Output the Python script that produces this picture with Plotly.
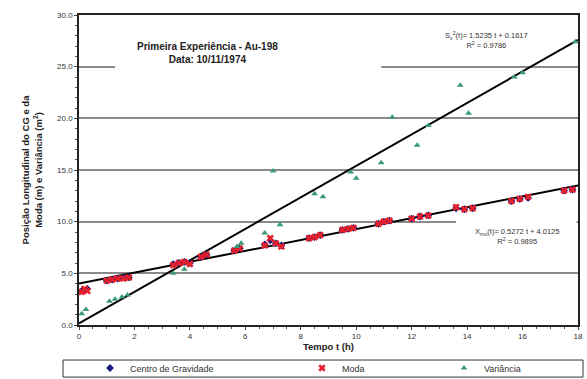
import plotly.graph_objects as go

# Tempo (h) e posições medidas
t_cg = [0.1, 0.3, 1.0, 1.2, 1.4, 1.6, 1.8, 3.4, 3.6, 3.8, 4.0, 4.4, 4.6, 5.6, 5.8,
        6.7, 6.9, 7.1, 7.3, 8.3, 8.5, 8.7, 9.5, 9.7, 9.9, 10.8, 11.0, 11.2,
        12.0, 12.3, 12.6, 13.6, 13.9, 14.2, 15.6, 15.9, 16.2, 17.5, 17.8]
v_cg = [3.3, 3.5, 4.3, 4.4, 4.5, 4.6, 4.6, 5.9, 6.0, 6.1, 6.0, 6.6, 6.8, 7.2, 7.4,
        7.8, 8.2, 7.9, 7.7, 8.4, 8.5, 8.7, 9.2, 9.3, 9.4, 9.8, 10.0, 10.1,
        10.3, 10.5, 10.6, 11.3, 11.2, 11.3, 12.0, 12.2, 12.3, 13.0, 13.1]

t_moda = [0.1, 0.2, 0.3, 1.0, 1.2, 1.4, 1.6, 1.8, 3.4, 3.6, 3.8, 4.0, 4.4, 4.6,
          5.6, 5.8, 6.7, 6.9, 7.1, 7.3, 8.3, 8.5, 8.7, 9.5, 9.7, 9.9, 10.8, 11.0,
          11.2, 12.0, 12.3, 12.6, 13.6, 13.9, 14.2, 15.6, 15.9, 16.2, 17.5, 17.8]
v_moda = [3.2, 3.5, 3.3, 4.3, 4.4, 4.5, 4.5, 4.6, 5.8, 6.0, 6.1, 5.9, 6.6, 6.8,
          7.2, 7.4, 7.7, 8.4, 7.9, 7.6, 8.4, 8.5, 8.7, 9.2, 9.3, 9.4, 9.8, 10.0,
          10.1, 10.3, 10.5, 10.6, 11.4, 11.2, 11.3, 12.0, 12.2, 12.4, 13.0, 13.1]

t_var = [0.1, 0.25, 1.1, 1.3, 1.55, 1.75, 3.4, 3.8, 5.7, 5.85, 6.7, 7.0, 7.25,
         8.5, 8.8, 9.8, 10.0, 10.9, 11.3, 12.2, 12.6, 13.75, 14.05, 15.7, 16.0, 17.9]
v_var = [1.1, 1.5, 2.3, 2.5, 2.7, 2.9, 5.0, 5.4, 7.6, 7.9, 8.9, 14.9, 9.7,
         12.7, 12.4, 14.8, 14.2, 15.7, 20.1, 17.4, 19.3, 23.2, 20.5, 24.0, 24.4, 27.4]

# Retas de ajuste (coeficientes das equações exibidas)
fit_var = (1.5235, 0.1617)
fit_moda = (0.5272, 4.0125)
t_fit = [0, 18]

x_ticks = [0, 2, 4, 6, 8, 10, 12, 14, 16, 18]
y_ticks = [0, 5, 10, 15, 20, 25, 30]

FONT = "Liberation Sans, Arial, sans-serif"

fig = go.Figure()

fig.add_trace(go.Scatter(
    x=t_fit, y=[fit_var[0] * t + fit_var[1] for t in t_fit], mode="lines",
    line=dict(color="black", width=2), showlegend=False, hoverinfo="skip"))
fig.add_trace(go.Scatter(
    x=t_fit, y=[fit_moda[0] * t + fit_moda[1] for t in t_fit], mode="lines",
    line=dict(color="black", width=2), showlegend=False, hoverinfo="skip"))

fig.add_trace(go.Scatter(
    x=t_cg, y=v_cg, mode="markers", name="Centro de Gravidade", legend="legend",
    marker=dict(symbol="diamond", size=6, color="#1a1a80")))
fig.add_trace(go.Scatter(
    x=t_moda, y=v_moda, mode="markers", name="Moda", legend="legend2",
    marker=dict(symbol="x", size=6.5, color="#e8202a")))
fig.add_trace(go.Scatter(
    x=t_var, y=v_var, mode="markers", name="Variância", legend="legend3",
    marker=dict(symbol="triangle-up", size=6, color="#3a9a72")))

axis_common = dict(
    showline=True, linecolor="#222", linewidth=1.5, mirror=True,
    ticks="outside", ticklen=3, tickcolor="#444",
    tickfont=dict(family=FONT, size=8, color="#333"),
    zeroline=False, automargin=False,
)

fig.update_xaxes(
    range=[0, 18], tickvals=x_ticks, showgrid=False,
    minor=dict(dtick=0.5, ticks="outside", ticklen=2, tickcolor="#555"),
    title=dict(text="<b>Tempo t (h)</b>", font=dict(family=FONT, size=9.5, color="#222"),
               standoff=1),
    **axis_common)
fig.update_yaxes(
    range=[0, 30], tickvals=y_ticks, tickformat=".1f",
    showgrid=True, gridcolor="#8a8a8a", gridwidth=1.5,
    minor=dict(dtick=1, ticks="outside", ticklen=2, tickcolor="#555", showgrid=False),
    title=dict(text="<b>Posição Longitudinal do CG e da<br>Moda (m) e Variância (m<sup>2</sup>)</b>",
               font=dict(family=FONT, size=9.5, color="#222"), standoff=13),
    **axis_common)

# Caixas de texto brancas sobre as linhas de grade
fig.add_shape(type="rect", xref="x", yref="y", x0=1.3, x1=10.9, y0=22.5, y1=29.3,
              fillcolor="white", line=dict(width=0), layer="between")
fig.add_shape(type="rect", xref="x", yref="y", x0=13.6, x1=17.95, y0=7.2, y1=10.6,
              fillcolor="white", line=dict(width=0), layer="between")

# Moldura da legenda
fig.add_shape(type="rect", xref="paper", yref="paper",
              x0=-0.032, x1=1.01, y0=-0.168, y1=-0.113,
              fillcolor="rgba(0,0,0,0)", line=dict(color="#333", width=1))

fig.add_annotation(
    x=4.62, y=26.3, xref="x", yref="y", showarrow=False,
    text="<b>Primeira Experiência - Au-198<br>Data: 10/11/1974</b>",
    font=dict(family=FONT, size=10, color="#222"), align="center")
fig.add_annotation(
    x=14.7, y=27.6, xref="x", yref="y", showarrow=False,
    text=f"S<sub>x</sub><sup>2</sup>(t)= {fit_var[0]:.4f} t + {fit_var[1]:.4f}<br>R<sup>2</sup> = 0.9786",
    font=dict(family=FONT, size=7.5, color="#333"), align="center")
fig.add_annotation(
    x=15.8, y=8.6, xref="x", yref="y", showarrow=False,
    text=f"X<sub>mo</sub>(t)= {fit_moda[0]:.4f} t + {fit_moda[1]:.4f}<br>R<sup>2</sup> = 0.9895",
    font=dict(family=FONT, size=7.5, color="#333"), align="center")

legend_style = dict(
    orientation="h", xref="container", yref="container",
    y=0.029, xanchor="left", yanchor="middle",
    font=dict(family=FONT, size=9, color="#333"),
    bgcolor="rgba(0,0,0,0)", borderwidth=0,
)

fig.update_layout(
    width=587, height=379,
    margin=dict(l=79, r=9, t=15, b=54, autoexpand=False),
    paper_bgcolor="white", plot_bgcolor="white",
    font=dict(family=FONT, color="#222"),
    legend=dict(x=(90 / 587), **legend_style),
    legend2=dict(x=(302 / 587), **legend_style),
    legend3=dict(x=(444 / 587), **legend_style),
)

fig.write_html("out.html")
